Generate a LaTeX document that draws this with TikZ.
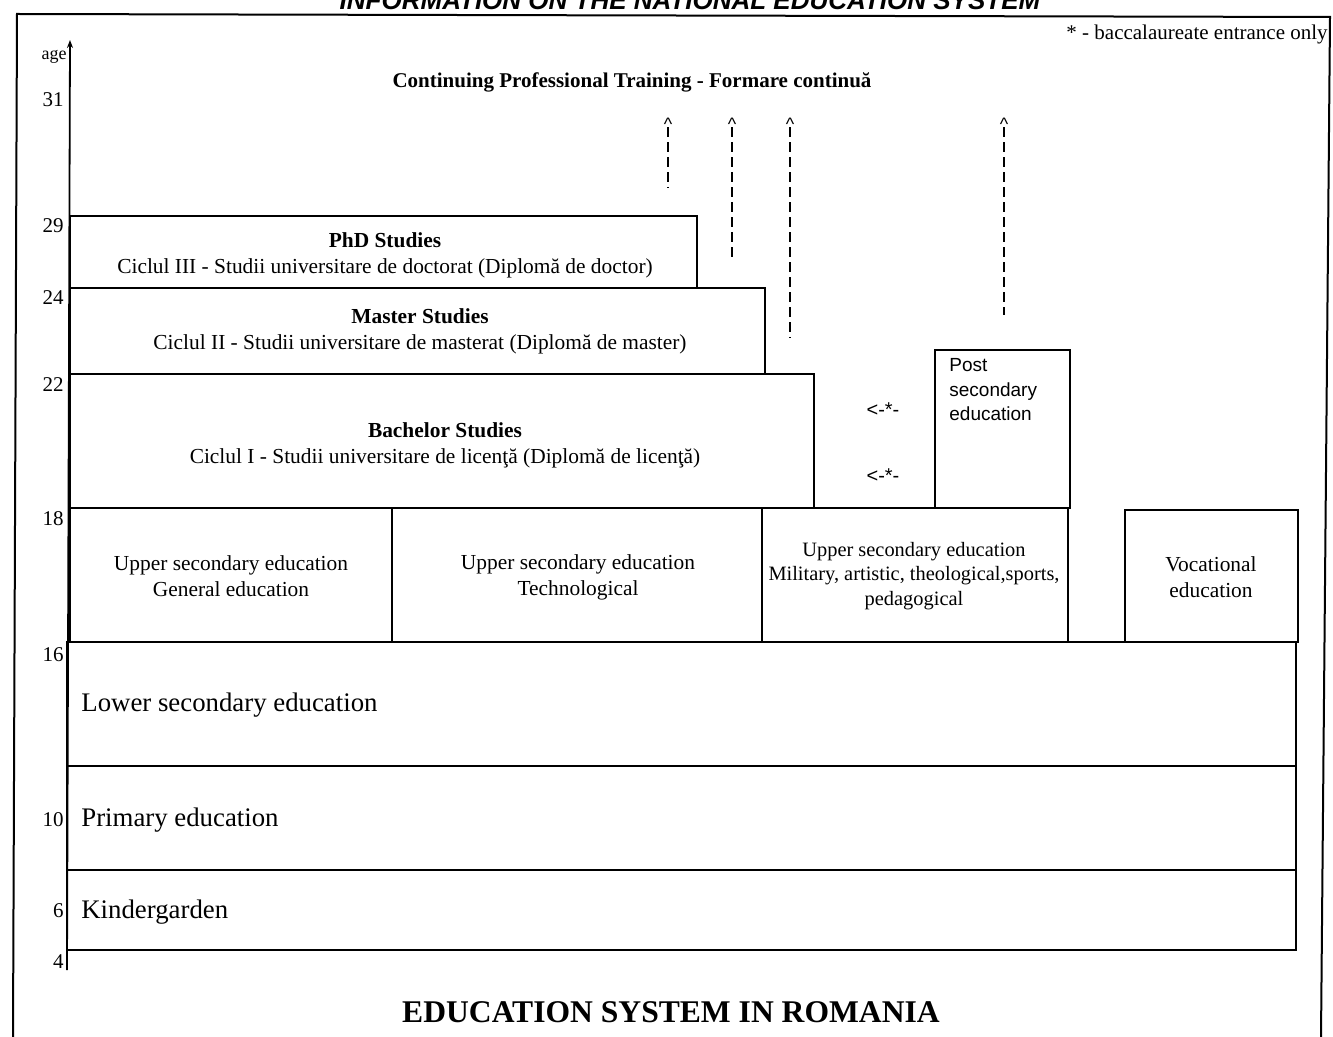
\documentclass[tikz,border=0pt]{standalone}
\usepackage{fontspec}
\setmainfont{Liberation Serif}
\newfontfamily\sansfont{Liberation Sans}
\usetikzlibrary{arrows.meta,positioning,calc}

\begin{document}
\begin{tikzpicture}[x=0.5pt, y=-0.5pt, >=Latex]
\tikzstyle{lvl}=[draw, line width=0.9pt]
\tikzstyle{txt}=[align=center, inner sep=0pt, font=\fontsize{10.7}{13}\selectfont]
\tikzstyle{big}=[anchor=west, inner sep=0pt, font=\fontsize{13.4}{16}\selectfont]
\tikzstyle{agelbl}=[anchor=east, inner sep=0pt, font=\fontsize{10.5}{12}\selectfont]
\tikzstyle{caret}=[inner sep=1pt, font=\sansfont\fontsize{9}{10}\selectfont]
\tikzstyle{dsh}=[line width=0.9pt, dash pattern=on 5pt off 2.5pt]
\tikzstyle{note}=[inner sep=0pt, font=\sansfont\fontsize{10}{12}\selectfont]

\useasboundingbox (0,0) rectangle (1333,1037);

% frame and cut-off heading
\node[anchor=base, inner sep=0pt, font=\sansfont\bfseries\itshape\fontsize{13}{15}\selectfont]
  (heading) at (690,10) {INFORMATION ON THE NATIONAL EDUCATION SYSTEM};
\draw[line width=1pt] (13,1037) -- (17,14) -- (1330,17) -- (1321,1037);

% age axis
\coordinate (axbot) at (67,970);
\coordinate (axtop) at (70,40);
\draw[line width=0.9pt, -{Stealth[length=4pt, width=3pt]}] (axbot) -- (axtop);
\node[anchor=east, inner sep=0pt, font=\fontsize{9}{10}\selectfont] (agetxt) at (67,57) {age};
\foreach \a/\y in {31/100, 29/226, 24/298, 22/385, 18/519, 16/655, 10/820, 6/911, 4/962}
  \node[agelbl] (age\a) at (64,\y) {\a};

\node[txt, font=\bfseries\fontsize{10.5}{12}\selectfont] (cpt) at (632,82)
  {Continuing Professional Training - Formare continuă};
\node[anchor=east, inner sep=0pt, font=\fontsize{10.5}{12}\selectfont] (bacnote) at (1328,34)
  {* - baccalaureate entrance only};

% university cycles
\draw[lvl] (70,216) rectangle (697,288);
\draw[lvl] (70,288) rectangle (765,374);
\draw[lvl] (70,374) rectangle (814,508);
\node[txt] (phd) at (385,255) {\textbf{PhD Studies}\\Ciclul III - Studii universitare de doctorat (Diplomă de doctor)};
\node[txt] (master) at (420,331) {\textbf{Master Studies}\\Ciclul II - Studii universitare de masterat (Diplomă de master)};
\node[txt] (bachelor) at (445,445) {\textbf{Bachelor Studies}\\Ciclul I - Studii universitare de licenţă (Diplomă de licenţă)};

% upper secondary row
\draw[lvl] (70,508) rectangle (392,642);
\draw[lvl] (392,508) rectangle (762,642);
\draw[lvl] (762,508) rectangle (1068,642);
\draw[lvl] (935,350) rectangle (1070,508);
\draw[lvl] (1125,510) rectangle (1298,642);
\node[txt] (general) at (231,576) {Upper secondary education\\General education};
\node[txt] (techno) at (578,577) {Upper secondary education\\Technological};
\node[txt, font=\fontsize{10.2}{12.3}\selectfont] (military) at (914,576)
  {Upper secondary education\\Military, artistic, theological,sports,\\pedagogical};
\node[txt] (vocational) at (1211,577) {Vocational\\education};
\node[anchor=north west, align=left, inner sep=0pt, font=\sansfont\fontsize{9.5}{12.3}\selectfont]
  (postsec) at (949,358) {Post\\secondary\\education};
\node[note] (bac1) at (883,410) {<-*-};
\node[note] (bac2) at (883,476) {<-*-};

% compulsory levels
\draw[lvl] (67,642) rectangle (1296,766);
\draw[lvl] (67,766) rectangle (1296,870);
\draw[lvl] (67,870) rectangle (1296,950);
\node[big] (lower) at (81,705) {Lower secondary education};
\node[big] (primary) at (81,820) {Primary education};
\node[big] (kinder) at (81,912) {Kindergarden};

% dashed routes to continuing training
\foreach \n/\x/\e in {1/668/188, 2/732/262, 3/790/338, 4/1004/315} {
  \node[caret, anchor=north] (c\n) at (\x,116) {\textasciicircum};
  \coordinate (d\n) at (\x,\e);
  \draw[dsh] ($(c\n.south)+(0,-6)$) -- (d\n);
}

\node[font=\bfseries\fontsize{15.8}{18}\selectfont, inner sep=0pt] (title) at (671,1012)
  {EDUCATION SYSTEM IN ROMANIA};

\end{tikzpicture}
\end{document}
